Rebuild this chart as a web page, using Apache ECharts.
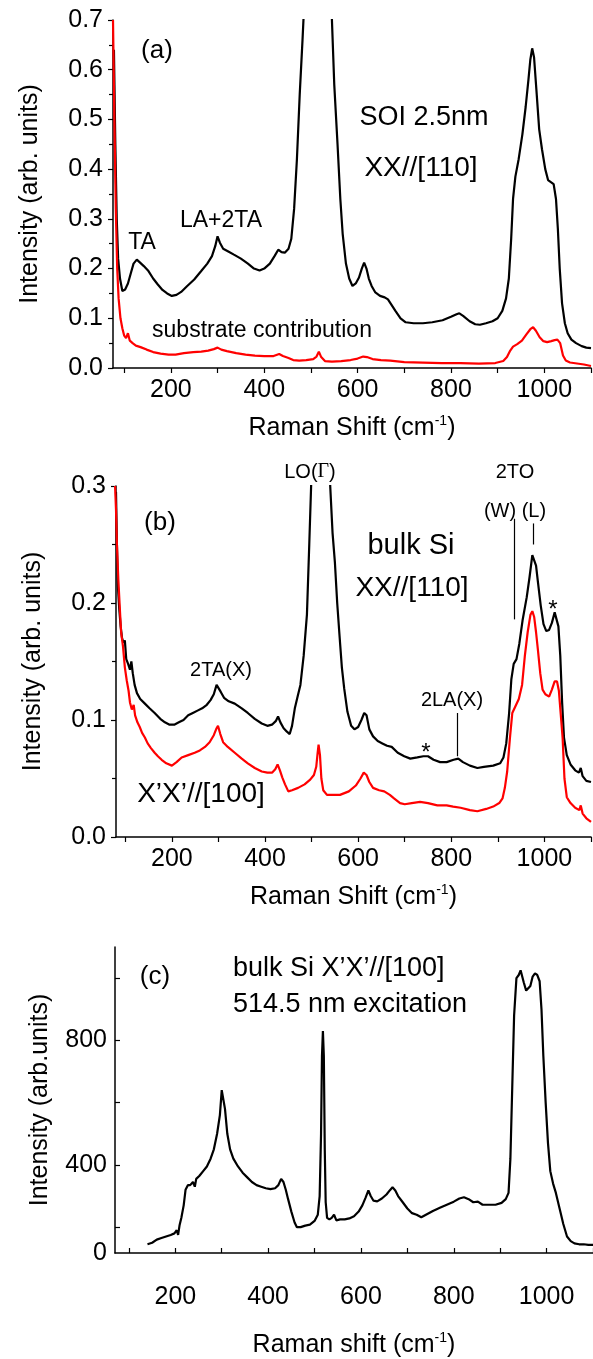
<!DOCTYPE html>
<html>
<head>
<meta charset="utf-8">
<script src="https://cdn.jsdelivr.net/npm/echarts@6/dist/echarts.min.js"></script>
<style>
html, body { margin: 0; padding: 0; background: #fff; }
#chart { width: 593px; height: 1359px; }
</style>
</head>
<body>
<div id="chart"></div>
<script>
// ---- data ----
// (a) SOI 2.5nm, XX//[110]
const aSoiX = [78, 81, 84, 87, 91, 96, 102, 108, 114, 120, 127, 134, 142, 152, 162, 172, 182, 192, 202, 212, 222, 235, 250, 265, 278, 288, 295, 300, 305, 312, 322, 335, 350, 365, 378, 390, 400, 412, 422, 430, 437, 444, 452, 458, 464, 470, 476, 482, 488, 495, 503, 510, 515, 520, 525, 530, 536, 541, 545, 550, 557, 563, 568, 575, 582, 589, 596, 603, 609, 614, 619, 624, 630, 638, 648, 658, 665, 672, 681, 692, 703, 720, 740, 760, 782, 800, 812, 818, 826, 840, 852, 862, 875, 889, 900, 910, 918, 924, 929, 933, 938, 945, 953, 960, 966, 970, 974, 978, 983, 989, 995, 1002, 1008, 1014, 1020, 1025, 1029, 1033, 1038, 1044, 1050, 1058, 1068, 1080, 1090, 1100];
const aSoiY = [0.64, 0.45, 0.30, 0.22, 0.18, 0.155, 0.158, 0.17, 0.19, 0.21, 0.218, 0.212, 0.205, 0.195, 0.18, 0.168, 0.157, 0.15, 0.145, 0.147, 0.153, 0.165, 0.178, 0.195, 0.21, 0.225, 0.245, 0.265, 0.252, 0.24, 0.235, 0.228, 0.22, 0.21, 0.2, 0.196, 0.2, 0.21, 0.225, 0.238, 0.233, 0.232, 0.24, 0.26, 0.32, 0.42, 0.55, 0.66, 0.78, 1.05, 1.6, 2.4, 3.0, 3.2, 3.0, 2.4, 1.4, 0.9, 0.7, 0.57, 0.45, 0.34, 0.27, 0.21, 0.18, 0.165, 0.17, 0.182, 0.2, 0.212, 0.2, 0.18, 0.165, 0.152, 0.145, 0.142, 0.138, 0.128, 0.115, 0.1, 0.092, 0.09, 0.09, 0.092, 0.096, 0.103, 0.108, 0.11, 0.105, 0.094, 0.088, 0.087, 0.09, 0.094, 0.1, 0.115, 0.14, 0.18, 0.26, 0.34, 0.385, 0.42, 0.47, 0.525, 0.58, 0.62, 0.643, 0.625, 0.56, 0.48, 0.44, 0.4, 0.378, 0.374, 0.37, 0.34, 0.28, 0.2, 0.13, 0.09, 0.07, 0.057, 0.05, 0.044, 0.041, 0.04];
const aSubX = [76, 79, 82, 85, 88, 92, 96, 100, 104, 108, 112, 118, 125, 135, 148, 162, 178, 195, 210, 228, 248, 265, 280, 292, 300, 308, 320, 340, 360, 380, 400, 420, 432, 440, 452, 462, 475, 490, 505, 512, 517, 522, 530, 545, 565, 585, 600, 612, 620, 632, 650, 670, 700, 740, 780, 820, 860, 895, 912, 920, 927, 933, 942, 952, 962, 970, 976, 982, 990, 998, 1006, 1015, 1022, 1028, 1034, 1040, 1046, 1055, 1070, 1085, 1100];
const aSubY = [0.70, 0.5, 0.32, 0.2, 0.14, 0.1, 0.08, 0.065, 0.06, 0.07, 0.055, 0.05, 0.045, 0.042, 0.037, 0.032, 0.029, 0.027, 0.027, 0.03, 0.032, 0.033, 0.035, 0.038, 0.041, 0.037, 0.034, 0.03, 0.027, 0.025, 0.024, 0.024, 0.028, 0.024, 0.02, 0.016, 0.015, 0.016, 0.018, 0.023, 0.033, 0.022, 0.014, 0.013, 0.014, 0.016, 0.019, 0.023, 0.022, 0.018, 0.016, 0.015, 0.012, 0.011, 0.01, 0.01, 0.009, 0.01, 0.014, 0.022, 0.035, 0.043, 0.048, 0.055, 0.068, 0.078, 0.082, 0.075, 0.062, 0.054, 0.052, 0.054, 0.056, 0.057, 0.05, 0.025, 0.015, 0.011, 0.009, 0.007, 0.004];

// (b) bulk Si, XX//[110] (black) and X'X'//[100] (red)
const bXXx = [80, 82, 84, 87, 90, 93, 96, 99, 102, 106, 110, 113, 116, 120, 125, 132, 142, 152, 163, 175, 185, 195, 205, 215, 225, 235, 245, 255, 265, 275, 283, 290, 296, 300, 305, 312, 322, 335, 350, 363, 378, 393, 405, 415, 423, 428, 433, 440, 447, 453, 458, 464, 470, 476, 483, 490, 495, 499, 505, 512, 520, 528, 535, 540, 545, 550, 555, 560, 565, 570, 577, 585, 592, 600, 607, 613, 618, 624, 632, 642, 652, 662, 672, 685, 699, 712, 727, 740, 750, 762, 776, 790, 805, 815, 825, 840, 856, 870, 890, 905, 912, 918, 924, 929, 934, 940, 946, 953, 962, 968, 974, 978, 982, 986, 992, 998, 1004, 1010, 1016, 1022, 1026, 1030, 1034, 1038, 1042, 1048, 1056, 1066, 1074, 1078, 1082, 1090, 1100];
const bXXy = [0.295, 0.25, 0.215, 0.195, 0.18, 0.17, 0.166, 0.168, 0.152, 0.148, 0.143, 0.15, 0.14, 0.13, 0.123, 0.118, 0.114, 0.11, 0.106, 0.101, 0.098, 0.096, 0.096, 0.098, 0.1, 0.104, 0.106, 0.108, 0.11, 0.113, 0.117, 0.122, 0.13, 0.131, 0.124, 0.119, 0.116, 0.114, 0.11, 0.106, 0.101, 0.097, 0.095, 0.096, 0.099, 0.103, 0.098, 0.093, 0.09, 0.088, 0.095, 0.11, 0.12, 0.13, 0.155, 0.19, 0.25, 0.3, 0.45, 0.7, 0.9, 0.7, 0.4, 0.3, 0.26, 0.235, 0.2, 0.172, 0.145, 0.127, 0.107, 0.095, 0.092, 0.094, 0.1, 0.106, 0.104, 0.092, 0.086, 0.082, 0.08, 0.078, 0.077, 0.072, 0.069, 0.067, 0.068, 0.069, 0.069, 0.066, 0.064, 0.064, 0.066, 0.067, 0.064, 0.061, 0.059, 0.06, 0.061, 0.063, 0.068, 0.08, 0.105, 0.135, 0.148, 0.152, 0.165, 0.185, 0.205, 0.222, 0.241, 0.24, 0.232, 0.218, 0.198, 0.182, 0.176, 0.177, 0.183, 0.192, 0.193, 0.18, 0.155, 0.115, 0.085, 0.07, 0.062, 0.057, 0.055, 0.059, 0.052, 0.048, 0.047];
const bX2x = [78, 80, 82, 85, 88, 91, 95, 99, 103, 107, 110, 114, 118, 121, 126, 131, 136, 142, 148, 155, 163, 170, 178, 188, 200, 210, 221, 235, 249, 260, 271, 281, 290, 296, 299, 304, 310, 320, 335, 350, 363, 378, 393, 405, 415, 422, 427, 432, 437, 443, 450, 458, 471, 485, 497, 505, 510, 513, 515, 518, 521, 525, 533, 545, 561, 580, 595, 605, 612, 618, 624, 632, 645, 656, 668, 677, 690, 700, 715, 733, 750, 770, 790, 804, 820, 840, 856, 875, 890, 903, 910, 915, 920, 926, 931, 938, 945, 952, 958, 964, 970, 974, 978, 982, 986, 991, 996, 1002, 1010, 1016, 1022, 1027, 1031, 1035, 1039, 1043, 1048, 1056, 1066, 1075, 1078, 1082, 1090, 1100];
const bX2y = [0.3, 0.28, 0.25, 0.22, 0.197, 0.175, 0.163, 0.145, 0.134, 0.125, 0.115, 0.109, 0.113, 0.104, 0.098, 0.094, 0.089, 0.085, 0.08, 0.076, 0.072, 0.069, 0.066, 0.063, 0.061, 0.064, 0.068, 0.07, 0.072, 0.074, 0.077, 0.081, 0.087, 0.093, 0.095, 0.088, 0.081, 0.077, 0.072, 0.067, 0.063, 0.059, 0.056, 0.055, 0.055, 0.058, 0.062, 0.057, 0.051, 0.045, 0.039, 0.04, 0.042, 0.045, 0.049, 0.053, 0.06, 0.072, 0.079, 0.07, 0.05, 0.04, 0.036, 0.036, 0.036, 0.039, 0.044, 0.05, 0.055, 0.053, 0.047, 0.042, 0.04, 0.039, 0.036, 0.033, 0.029, 0.028, 0.029, 0.03, 0.029, 0.027, 0.027, 0.026, 0.025, 0.023, 0.022, 0.024, 0.026, 0.029, 0.033, 0.042, 0.056, 0.085, 0.106, 0.112, 0.118, 0.13, 0.155, 0.175, 0.19, 0.193, 0.188, 0.175, 0.16, 0.14, 0.126, 0.122, 0.12, 0.126, 0.133, 0.133, 0.125, 0.105, 0.085, 0.05, 0.034, 0.029, 0.025, 0.023, 0.027, 0.02, 0.016, 0.013];

// (c) bulk Si X'X'//[100], 514.5 nm excitation
const cX = [140, 150, 160, 170, 180, 190, 198, 203, 206, 209, 213, 218, 222, 227, 232, 238, 242, 245, 252, 260, 268, 276, 283, 290, 296, 300, 303, 307, 312, 318, 325, 335, 345, 355, 365, 375, 385, 395, 405, 415, 422, 428, 433, 438, 443, 450, 457, 462, 470, 480, 490, 500, 507, 511, 514, 516, 518, 520, 522, 524, 527, 532, 537, 542, 547, 555, 565, 575, 585, 595, 603, 610, 616, 621, 627, 635, 645, 655, 662, 668, 674, 680, 690, 700, 710, 720, 730, 740, 755, 770, 785, 800, 812, 822, 832, 842, 852, 862, 875, 890, 903, 912, 918, 922, 926, 930, 935, 940, 944, 947, 951, 956, 960, 965, 970, 975, 980, 985, 989, 993, 998, 1003, 1008, 1014, 1020, 1028, 1036, 1044, 1052, 1060, 1070, 1080, 1090, 1100];
const cY = [145, 150, 160, 165, 170, 175, 180, 190, 175, 205, 230, 270, 320, 335, 335, 345, 330, 355, 365, 380, 395, 420, 450, 500, 560, 640, 640, 580, 500, 450, 420, 395, 375, 360, 345, 335, 330, 325, 322, 325, 335, 355, 345, 320, 290, 250, 215, 200, 200, 205, 208, 220, 240, 300, 500, 750, 830, 750, 450, 280, 230, 225, 230, 240, 222, 225, 225, 228, 235, 250, 270, 295, 318, 300, 285, 283, 292, 305, 318, 328, 318, 300, 280, 260, 245, 240, 232, 240, 252, 262, 272, 282, 292, 296, 290, 280, 282, 272, 272, 272, 278, 290, 310, 420, 650, 880, 1000, 1010, 1025, 1020, 985, 960, 955, 975, 1005, 1015, 1010, 990, 900, 750, 600, 470, 380, 340, 310, 260, 210, 170, 155, 148, 145, 145, 143, 143];

const xTicks = [100, 200, 300, 400, 500, 600, 700, 800, 900, 1000, 1100];
const xLabels = [200, 400, 600, 800, 1000];
const cYTicks = [200, 400, 600, 800, 1000];
const cYLabels = [117, 400, 800];

// ---- helpers ----
const zip = (xs, ys) => xs.map((x, i) => [x, ys[i]]);
const FONT = 'Liberation Sans, Arial, sans-serif';
const ramanName = (word) => '{n|Raman ' + word + ' (cm}{s|-1}{n|)}';
const nameRich = {
  n: { fontSize: 25, fontFamily: FONT, color: '#000', verticalAlign: 'bottom' },
  s: { fontSize: 14, fontFamily: FONT, color: '#000', verticalAlign: 'bottom', padding: [0, 0, 13, 0] }
};

function xAxisCfg(idx, min, inside, margin, gap) {
  return {
    type: 'value', gridIndex: idx, min: min, max: 1100,
    axisLine: { show: true, onZero: false, lineStyle: { color: '#000', width: 1.5 } },
    axisTick: { show: true, inside: inside, length: 5, customValues: xTicks, lineStyle: { color: '#000', width: 1.2 } },
    axisLabel: { customValues: xLabels, fontSize: 25, fontFamily: FONT, color: '#000', margin: margin,
      formatter: v => String(v) },
    splitLine: { show: false },
    name: ramanName(idx === 2 ? 'shift' : 'Shift'),
    nameLocation: 'middle', nameGap: gap,
    nameTextStyle: { rich: nameRich }
  };
}

function line(name, data, color, xi, extra) {
  return Object.assign({
    name: name, type: 'line', xAxisIndex: xi, yAxisIndex: xi,
    data: data, showSymbol: false, symbol: 'none', clip: true,
    lineStyle: { color: color, width: 2.2 }, animation: false
  }, extra || {});
}

const yName = (t) => ({
  name: t, nameLocation: 'middle', nameGap: 70,
  nameTextStyle: { fontSize: 25, fontFamily: FONT, color: '#000' }
});

const arrowLine = (x, y1, y2) => [{ coord: [x, y1] }, { coord: [x, y2] }];

const txt = (x, y, text, size, align) => ({
  type: 'text', x: x, y: y,
  style: { text: text, font: size + 'px ' + FONT, fill: '#000', align: align || 'center', verticalAlign: 'middle' }
});

const chart = echarts.init(document.getElementById('chart'));
chart.setOption({
  backgroundColor: '#fff',
  animation: false,
  grid: [
    { left: 113, right: 2, top: 20, height: 348 },
    { left: 116, right: 2, top: 486, height: 351 },
    { left: 115, right: 0, top: 947, height: 306 }
  ],
  xAxis: [xAxisCfg(0, 76, false, 10, 46), xAxisCfg(1, 80, false, 10, 46), xAxisCfg(2, 70, true, 32, 78)],
  yAxis: [
    Object.assign({
      type: 'value', gridIndex: 0, min: 0, max: 0.7, interval: 0.1,
      axisLine: { show: true, lineStyle: { color: '#000', width: 1.5 } },
      axisTick: { show: true, length: 5, lineStyle: { color: '#000', width: 1.2 } },
      minorTick: { show: true, splitNumber: 2, length: 4, lineStyle: { color: '#000', width: 1.2 } },
      axisLabel: { fontSize: 25, fontFamily: FONT, color: '#000', margin: 10, formatter: v => v.toFixed(1) },
      splitLine: { show: false }
    }, yName('Intensity (arb. units)')),
    Object.assign({
      type: 'value', gridIndex: 1, min: 0, max: 0.3, interval: 0.1,
      axisLine: { show: true, lineStyle: { color: '#000', width: 1.5 } },
      axisTick: { show: true, length: 5, lineStyle: { color: '#000', width: 1.2 } },
      minorTick: { show: true, splitNumber: 2, length: 4, lineStyle: { color: '#000', width: 1.2 } },
      axisLabel: { fontSize: 25, fontFamily: FONT, color: '#000', margin: 10, formatter: v => v.toFixed(1) },
      splitLine: { show: false }
    }, yName('Intensity (arb. units)')),
    Object.assign({
      type: 'value', gridIndex: 2, min: 117, max: 1100,
      axisLine: { show: true, lineStyle: { color: '#000', width: 1.5 } },
      axisTick: { show: true, inside: true, length: 5, customValues: cYTicks, lineStyle: { color: '#000', width: 1.2 } },
      axisLabel: { customValues: cYLabels, fontSize: 25, fontFamily: FONT, color: '#000', margin: 8,
        formatter: v => (v < 200 ? '0' : String(v)) },
      splitLine: { show: false }
    }, yName('Intensity (arb.units)'), { nameGap: 62 })
  ],
  series: [
    line('SOI XX//[110]', zip(aSoiX, aSoiY), '#000', 0),
    line('substrate', zip(aSubX, aSubY), '#ff0000', 0),
    line('bulk XX//[110]', zip(bXXx, bXXy), '#000', 1, {
      markLine: {
        silent: true, symbol: ['none', 'arrow'], symbolSize: [0, 8],
        label: { show: false },
        lineStyle: { color: '#000', width: 1.2, type: 'solid' },
        data: [arrowLine(935, 0.272, 0.186), arrowLine(976, 0.268, 0.25), arrowLine(813, 0.106, 0.069)]
      }
    }),
    line("bulk X'X'//[100]", zip(bX2x, bX2y), '#ff0000', 1),
    line('514.5 nm', zip(cX, cY), '#000', 2)
  ],
  graphic: [
    // panel (a)
    txt(157, 51, '(a)', 26),
    txt(142, 243, 'TA', 23),
    txt(221, 221, 'LA+2TA', 23),
    txt(424, 118, 'SOI 2.5nm', 27),
    txt(421, 168, 'XX//[110]', 28),
    txt(262, 331, 'substrate contribution', 23),
    // panel (b)
    txt(160, 523, '(b)', 26),
    {
      type: 'text', x: 310, y: 472,
      style: {
        text: '{a|LO(}{g|Γ}{a|)}', align: 'center', verticalAlign: 'middle',
        rich: {
          a: { fontSize: 20, fontFamily: FONT, fill: '#000' },
          g: { fontSize: 20, fontFamily: 'Liberation Serif, Times New Roman, serif', fill: '#000' }
        }
      }
    },
    txt(515, 472, '2TO', 20),
    txt(515, 511, '(W) (L)', 20),
    txt(411, 546, 'bulk Si', 29),
    txt(412, 588, 'XX//[110]', 28),
    txt(221, 670, '2TA(X)', 20),
    txt(452, 700, '2LA(X)', 20),
    txt(201, 794, 'X’X’//[100]', 28),
    txt(426, 753, '*', 24),
    txt(553, 610, '*', 24),
    // panel (c)
    txt(155, 977, '(c)', 26),
    txt(233, 969, 'bulk Si X’X’//[100]', 27, 'left'),
    txt(233, 1005, '514.5 nm excitation', 27, 'left')
  ]
});
</script>
</body>
</html>
